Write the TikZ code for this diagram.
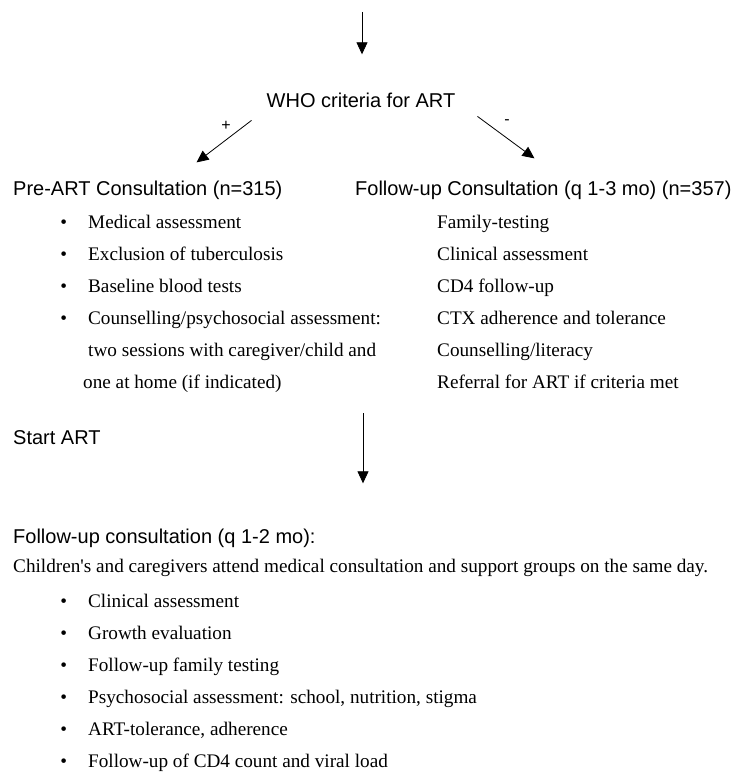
\documentclass[tikz,border=0pt]{standalone}
\usepackage{fontspec}
\setmainfont{Liberation Serif}
\setsansfont{Liberation Sans}
\usetikzlibrary{arrows.meta, positioning, calc}

\begin{document}
\begin{tikzpicture}[
    x=1pt, y=-1pt,
    every node/.style={inner sep=0pt, anchor=base west},
    head/.style={font=\sffamily\fontsize{20}{24}\selectfont},
    item/.style={font=\fontsize{19.2}{23}\selectfont},
    bul/.style={item, execute at begin node={\llap{\textbullet\hspace{21pt}}}},
    row/.style={below=32pt of #1.base west, anchor=base west},
    sign/.style={font=\sffamily\fontsize{16}{18}\selectfont, anchor=center},
    arr/.style={-{Triangle[length=12pt, width=11pt]}, line width=0.8pt}
]
    \useasboundingbox (0,0) rectangle (733,773);

    % top of the chart
    \coordinate (in) at (362,12);
    \node[head, anchor=base] (who) at (361,107) {WHO criteria for ART};
    \draw[arr] (in) -- ([yshift=38pt]in |- who.north);

    % two branches
    \node[head] (pre) at (13,195) {Pre-ART Consultation (n=315)};
    \node[head] (fu) at (355,195) {Follow-up Consultation (q 1-3 mo) (n=357)};

    \draw[arr] ([shift={(-15,13)}]who.south west) -- ([shift={(-70,55)}]who.south west)
        node[sign, midway, xshift=2pt, yshift=16pt] {+};
    \draw[arr] ([shift={(22,9)}]who.south east) -- ([shift={(79,51)}]who.south east)
        node[sign, midway, xshift=1pt, yshift=15pt] {-};

    % pre-ART list
    \node[bul, below=33pt of pre.base west, anchor=base west, xshift=75pt] (p1) {Medical assessment};
    \node[bul, row=p1] (p2) {Exclusion of tuberculosis};
    \node[bul, row=p2] (p3) {Baseline blood tests};
    \node[bul, row=p3] (p4) {Counselling/psychosocial assessment:};
    \node[item, row=p4] (p5) {two sessions with caregiver/child and};
    \node[item, row=p5, xshift=-5pt] (p6) {one at home (if indicated)};

    % follow-up list
    \node[item, below=33pt of fu.base west, anchor=base west, xshift=82pt] (f1) {Family-testing};
    \node[item, row=f1] (f2) {Clinical assessment};
    \node[item, row=f2] (f3) {CD4 follow-up};
    \node[item, row=f3] (f4) {CTX adherence and tolerance};
    \node[item, row=f4] (f5) {Counselling/literacy};
    \node[item, row=f5] (f6) {Referral for ART if criteria met};

    % ART
    \node[head] (art) at (13,444) {Start ART};
    \coordinate (mid) at (363,413);
    \node[head] (fc) at (13,543) {Follow-up consultation (q 1-2 mo):};
    \draw[arr] (mid) -- ([yshift=45pt]mid |- fc.north);

    \node[item, below=29pt of fc.base west, anchor=base west] (kids)
        {Children\textquotesingle s and caregivers attend medical consultation and support groups on the same day.};
    \node[bul, below=35pt of kids.base west, anchor=base west, xshift=75pt] (c1) {Clinical assessment};
    \node[bul, row=c1] (c2) {Growth evaluation};
    \node[bul, row=c2] (c3) {Follow-up family testing};
    \node[bul, row=c3] (c4) {Psychosocial assessment: school, nutrition, stigma};
    \node[bul, row=c4] (c5) {ART-tolerance, adherence};
    \node[bul, row=c5] (c6) {Follow-up of CD4 count and viral load};
\end{tikzpicture}
\end{document}
